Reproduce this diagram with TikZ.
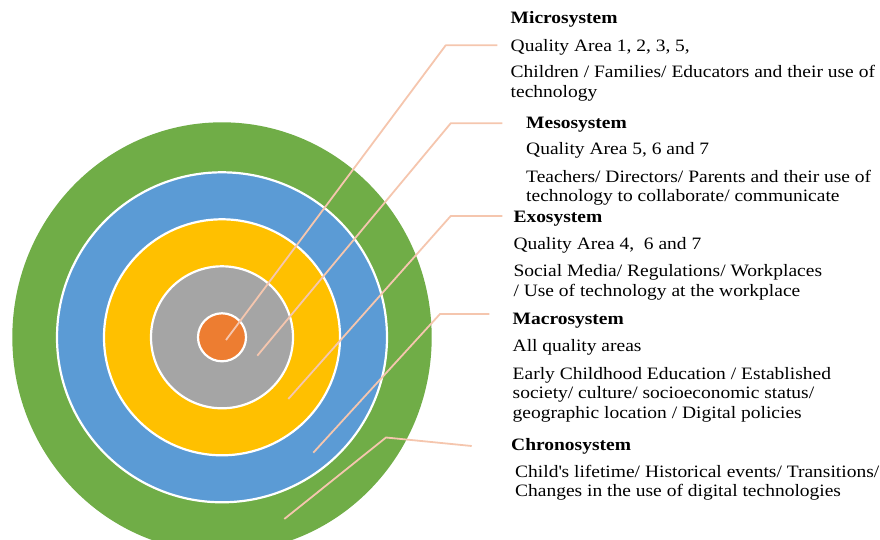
\documentclass[tikz,border=0pt]{standalone}
\usepackage{fontspec}
\setmainfont[FakeStretch=1.12]{Liberation Serif}
\definecolor{cgreen}{HTML}{70AD47}
\definecolor{cblue}{HTML}{5B9BD5}
\definecolor{cyellow}{HTML}{FFC000}
\definecolor{cgray}{HTML}{A5A5A5}
\definecolor{corange}{HTML}{ED7D31}
\definecolor{lineclr}{HTML}{F5C6AE}
\begin{document}
\begin{tikzpicture}[x=1pt,y=-1pt,
  ring/.style={draw=white,line width=2.2pt},
  conn/.style={draw=lineclr,line width=1.8pt,line join=round},
  txt/.style={anchor=base west,inner sep=0pt,font=\fontsize{17.4}{19.7}\selectfont},
  ttl/.style={anchor=base west,inner sep=0pt,font=\fontsize{17.4}{19.7}\selectfont\bfseries}]
\useasboundingbox (0,0) rectangle (880,540);
\coordinate (c) at (222,337.3);
% rings
\fill[cgreen] (c) ellipse [x radius=209.7pt, y radius=215pt];
\path[fill=cblue,ring] (c) circle [radius=165pt];
\path[fill=cyellow,ring] (c) circle [radius=118pt];
\path[fill=cgray,ring] (c) circle [radius=71pt];
\path[fill=corange,ring] (c) circle [radius=24pt];
% connector points
\coordinate (s1) at (226,340);
\coordinate (e1) at (445.7,45.3);
\coordinate (t1) at (497.3,45.3);
\coordinate (s2) at (257.3,355.7);
\coordinate (e2) at (450.7,123.3);
\coordinate (t2) at (502.3,123.3);
\coordinate (s3) at (288.3,399);
\coordinate (e3) at (450.7,216);
\coordinate (t3) at (502.3,216);
\coordinate (s4) at (313.3,452.7);
\coordinate (e4) at (440,314);
\coordinate (t4) at (489.3,314);
\coordinate (s5) at (284.3,519);
\coordinate (e5) at (386,437.5);
\coordinate (t5) at (471.7,446);
\draw[conn] (s1) -- (e1) -- (t1);
\draw[conn] (s2) -- (e2) -- (t2);
\draw[conn] (s3) -- (e3) -- (t3);
\draw[conn] (s4) -- (e4) -- (t4);
\draw[conn] (s5) -- (e5) -- (t5);
% texts
\node[ttl] (micT) at (510.5,24) {Microsystem};
\node[txt] (micQ) at (510.5,51.3) {Quality Area 1, 2, 3, 5,};
\node[txt] (micD1) at (510.5,77.5) {Children / Families/ Educators and their use of};
\node[txt] (micD2) at (510.5,97.3) {technology};
\node[ttl] (mesT) at (526,128.3) {Mesosystem};
\node[txt] (mesQ) at (526,155) {Quality Area 5, 6 and 7};
\node[txt] (mesD1) at (526,182.7) {Teachers/ Directors/ Parents and their use of};
\node[txt] (mesD2) at (526,201.7) {technology to collaborate/ communicate};
\node[ttl] (exoT) at (513.3,222.7) {Exosystem};
\node[txt] (exoQ) at (513.3,249.3) {Quality Area 4,\ \ 6 and 7};
\node[txt] (exoD1) at (513.3,276.7) {Social Media/ Regulations/ Workplaces};
\node[txt] (exoD2) at (513.3,296) {/ Use of technology at the workplace};
\node[ttl] (macT) at (512.5,324.5) {Macrosystem};
\node[txt] (macQ) at (512.5,351.5) {All quality areas};
\node[txt] (macD1) at (512.5,379) {Early Childhood Education / Established};
\node[txt] (macD2) at (512.5,398.7) {society/ culture/ socioeconomic status/};
\node[txt] (macD3) at (512.5,418.3) {geographic location / Digital policies};
\node[ttl] (chrT) at (511,450.5) {Chronosystem};
\node[txt] (chrD1) at (515,477.5) {Child\textquotesingle s lifetime/ Historical events/ Transitions/};
\node[txt] (chrD2) at (515,496.7) {Changes in the use of digital technologies};
\end{tikzpicture}
\end{document}
